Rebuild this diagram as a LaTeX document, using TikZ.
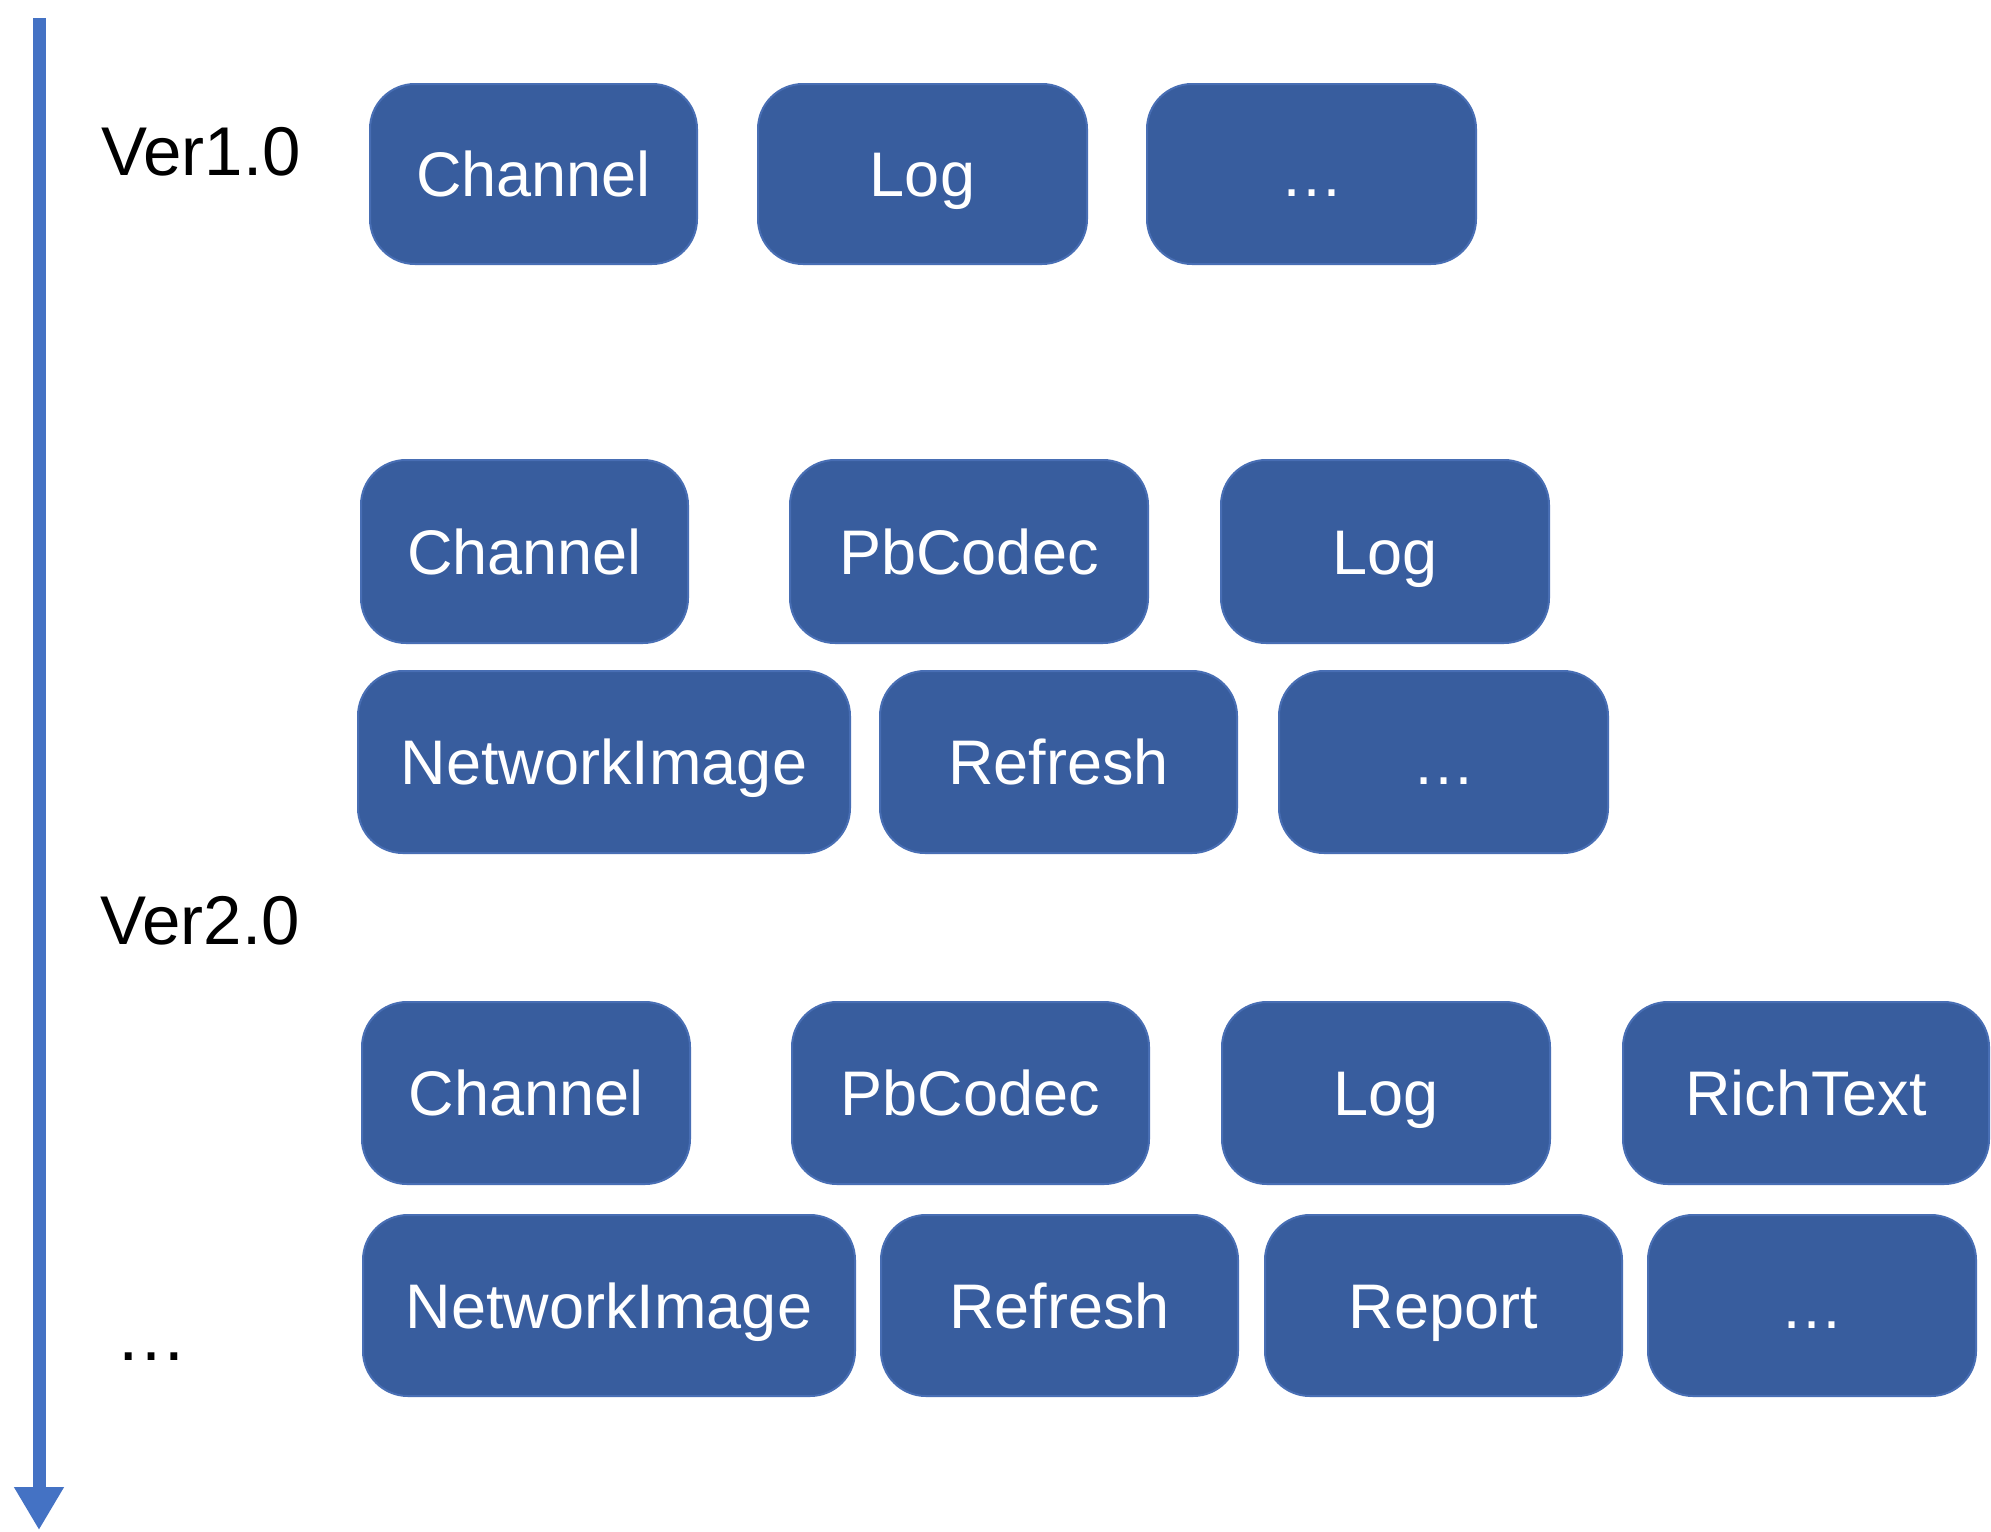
\documentclass[tikz,border=0pt]{standalone}
\usepackage{fontspec}
\setmainfont{Liberation Sans}
\usetikzlibrary{arrows.meta}
\definecolor{boxfill}{RGB}{56,93,158}
\definecolor{boxedge}{RGB}{72,110,180}
\definecolor{arrowblue}{RGB}{68,114,196}
\tikzset{
  modbox/.style={draw=boxedge, line width=2pt, fill=boxfill, rounded corners=45pt,
    text=white, inner sep=0pt, font=\fontsize{63}{70}\selectfont,
    text height=45pt, text depth=0pt, align=center},
  verlabel/.style={inner sep=0pt, font=\fontsize{69}{76}\selectfont, text=black, anchor=base west}
}
\newcommand{\modbox}[6]{% name, x1, x2, y1, y2, text
  \node[modbox, minimum width={#3-#2}, minimum height={#5-#4}] (#1) at ({(#2+#3)/2},{(#4+#5)/2}) {#6};}
\begin{document}
\begin{tikzpicture}[x=1pt,y=-1pt]
\useasboundingbox[fill=white] (0,0) rectangle (1991,1531);
% timeline arrow
\coordinate (ttop) at (39,18);
\coordinate (tbot) at (39,1530);
\draw[arrowblue, line width=13pt, -{Triangle[length=43pt,width=47pt]}] (ttop) -- (tbot);
% labels
\node[verlabel] (v1) at (101,175) {Ver1.0};
\node[verlabel] (v2) at (100,944) {Ver2.0};
\node[inner sep=0pt, font=\fontsize{72}{76}\selectfont, anchor=base] (more) at (151,1360) {…};
% row 1
\modbox{ra1}{370}{697}{84}{264}{Channel}
\modbox{ra2}{758}{1087}{84}{264}{Log}
\modbox{ra3}{1147}{1476}{84}{264}{…}
% row 2
\modbox{rb1}{361}{688}{460}{643}{Channel}
\modbox{rb2}{790}{1148}{460}{643}{PbCodec}
\modbox{rb3}{1221}{1549}{460}{643}{Log}
% row 3
\modbox{rc1}{358}{850}{671}{853}{NetworkImage}
\modbox{rc2}{880}{1237}{671}{853}{Refresh}
\modbox{rc3}{1279}{1608}{671}{853}{…}
% row 4
\modbox{rd1}{362}{690}{1002}{1184}{Channel}
\modbox{rd2}{792}{1149}{1002}{1184}{PbCodec}
\modbox{rd3}{1222}{1550}{1002}{1184}{Log}
\modbox{rd4}{1623}{1989}{1002}{1184}{RichText}
% row 5
\modbox{re1}{363}{855}{1215}{1396}{NetworkImage}
\modbox{re2}{881}{1238}{1215}{1396}{Refresh}
\modbox{re3}{1265}{1622}{1215}{1396}{Report}
\modbox{re4}{1648}{1976}{1215}{1396}{…}
\end{tikzpicture}
\end{document}
